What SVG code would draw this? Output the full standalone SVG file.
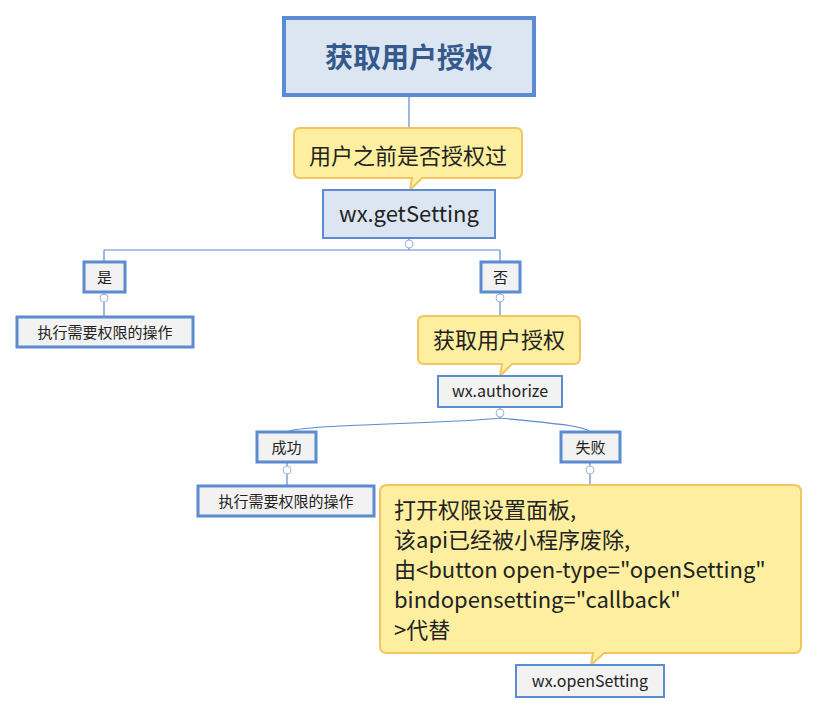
<svg xmlns="http://www.w3.org/2000/svg" width="818" height="715" viewBox="0 0 818 715">
<style>
text{font-family:"Microsoft YaHei","Noto Sans CJK SC",sans-serif;fill:#222}
.b{fill:#dce6f2;stroke:#5b8bd0;stroke-width:2}
.g{fill:#f2f2f2;stroke:#5b8bd0;stroke-width:3}
.c{fill:#fdef9f;stroke:#f2c560;stroke-width:2}
.l{fill:none;stroke:#5b8bd0;stroke-width:1.2}
.k{fill:#fff;stroke:#9fb6d8;stroke-width:1}
</style>
<rect width="818" height="715" fill="#fff"/>
<g id="connectors">
<path class="l" d="M409 96V128M409 238V250M104 250H500M104 250V262M500 250V262M104 292V317M500 292V316M500 407V418C450 424 300 424 287 432M500 418C560 424 585 426 590 432M287 462V486M590 462V485"/>
<circle class="k" cx="409" cy="244" r="4"/><circle class="k" cx="104" cy="298" r="4"/><circle class="k" cx="500" cy="298" r="4"/>
<circle class="k" cx="500" cy="413" r="4"/><circle class="k" cx="287" cy="470" r="4"/><circle class="k" cx="590" cy="470" r="4"/>
</g>
<g id="title"><rect x="284" y="18" width="250" height="77" fill="#dce6f2" stroke="#5b8bd0" stroke-width="4"/>
<text x="409" y="68" font-size="28" font-weight="bold" text-anchor="middle" style="fill:#35598b">获取用户授权</text></g>
<g id="callout1"><path class="c" d="M300 128H516Q522 128 522 134V172Q522 178 516 178H422L410 190L412 178H300Q294 178 294 172V134Q294 128 300 128Z"/>
<text x="408" y="164" font-size="22" text-anchor="middle">用户之前是否授权过</text></g>
<g id="getSetting"><rect class="b" x="323" y="190" width="172" height="48"/>
<text x="409" y="222" font-size="22" text-anchor="middle">wx.getSetting</text></g>
<g id="yes"><rect class="g" x="84" y="262" width="41" height="30"/><text x="104.5" y="283" font-size="15" text-anchor="middle">是</text></g>
<g id="no"><rect class="g" x="481" y="262" width="39" height="30"/><text x="500.5" y="283" font-size="15" text-anchor="middle">否</text></g>
<g id="do1"><rect class="g" x="17" y="317" width="176" height="30"/><text x="105" y="338" font-size="15" text-anchor="middle">执行需要权限的操作</text></g>
<g id="callout2"><path class="c" d="M424 316H574Q580 316 580 322V358Q580 364 574 364H512L500 376L502 364H424Q418 364 418 358V322Q418 316 424 316Z"/>
<text x="499" y="348" font-size="22" text-anchor="middle">获取用户授权</text></g>
<g id="authorize"><rect class="g" x="438" y="376" width="124" height="31" style="stroke-width:2"/><text x="500" y="397" font-size="16" text-anchor="middle">wx.authorize</text></g>
<g id="ok"><rect class="g" x="257" y="432" width="59" height="30"/><text x="286.5" y="453" font-size="15" text-anchor="middle">成功</text></g>
<g id="fail"><rect class="g" x="561" y="432" width="59" height="30"/><text x="590.5" y="453" font-size="15" text-anchor="middle">失败</text></g>
<g id="do2"><rect class="g" x="198" y="486" width="176" height="30"/><text x="286" y="507" font-size="15" text-anchor="middle">执行需要权限的操作</text></g>
<g id="callout3"><path class="c" d="M387 485H794Q801 485 801 492V646Q801 653 794 653H604L591 665L593 653H387Q380 653 380 646V492Q380 485 387 485Z"/>
<text font-size="22" x="394"><tspan x="394" y="518">打开权限设置面板,</tspan><tspan x="394" y="548">该api已经被小程序废除,</tspan><tspan x="394" y="578">由&lt;button open-type="openSetting"</tspan><tspan x="394" y="608">bindopensetting="callback"</tspan><tspan x="394" y="638">&gt;代替</tspan></text></g>
<g id="openSetting"><rect class="g" x="516" y="665" width="148" height="32" style="stroke-width:2"/><text x="590" y="687" font-size="16" text-anchor="middle">wx.openSetting</text></g>
</svg>
